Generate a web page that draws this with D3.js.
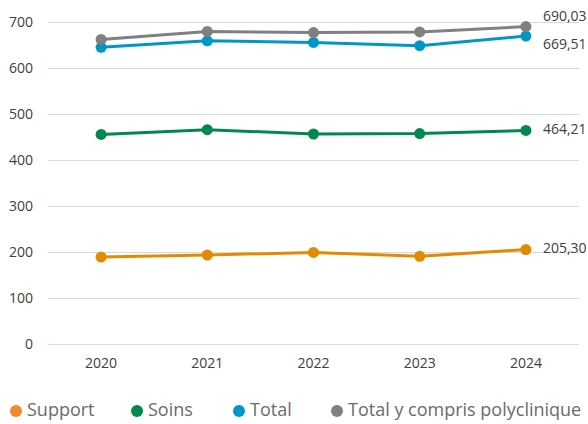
<!DOCTYPE html>
<html>
<head>
<meta charset="utf-8">
<script src="https://cdn.jsdelivr.net/npm/d3@7"></script>
<style>
  body { margin: 0; background: #fff; }
  #chart { width: 588px; height: 424px; }
  .axis text { font-family: "Open Sans", sans-serif; font-size: 14px; fill: #404040; }
  .legend text { font-family: "Open Sans", sans-serif; font-size: 18px; fill: #6b6b6b; }
  .value-label { font-family: "Open Sans", sans-serif; font-size: 14px; fill: #404040; }
</style>
</head>
<body>
<div id="chart"></div>
<script>
//data
const years = ["2020", "2021", "2022", "2023", "2024"];
const seriesNames = ["Support", "Soins", "Total", "Total y compris polyclinique"];
const support = [189, 193.5, 199, 190.5, 205.30];
const soins = [455.5, 466, 456.5, 457.5, 464.21];
const total = [645, 659, 655.5, 648.5, 669.51];
const totalPoly = [662, 679.5, 677, 678.5, 690.03];
const yTicks = [0, 100, 200, 300, 400, 500, 600, 700];
const colors = ["#e38b00", "#00884f", "#0096c8", "#808080"];
const legendColors = ["#f28a2c", "#00884f", "#0096c8", "#808080"];

const series = [support, soins, total, totalPoly].map((values, i) => ({
  name: seriesNames[i],
  values: values,
  color: colors[i]
}));

//size
const width = 588, height = 424;
const margin = { top: 22, right: 9, bottom: 80, left: 48 };
const innerWidth = width - margin.left - margin.right;
const innerHeight = height - margin.top - margin.bottom;

//scale
const xScale = d3.scaleBand().domain(years).range([0, innerWidth]).padding(0);
const yScale = d3.scaleLinear().domain([0, 700]).range([innerHeight, 0]);
const xPos = (i) => xScale(years[i]) + xScale.bandwidth() / 2;

//create element
const svg = d3.select("#chart").append("svg")
  .attr("width", width)
  .attr("height", height);
const g = svg.append("g").attr("transform", `translate(${margin.left},${margin.top})`);

//grid + y-axis
const yAxis = g.append("g").attr("class", "axis y-axis")
  .call(d3.axisLeft(yScale).tickValues(yTicks).tickSize(-innerWidth).tickPadding(15));
yAxis.select(".domain").remove();
yAxis.selectAll(".tick line").attr("stroke", "#d9d9d9").attr("stroke-width", 1);

//x-axis
const xAxis = g.append("g").attr("class", "axis x-axis")
  .attr("transform", `translate(0,${innerHeight})`)
  .call(d3.axisBottom(xScale).tickSize(0).tickPadding(14));
xAxis.select(".domain").remove();

//lines
const line = d3.line()
  .x((d, i) => xPos(i))
  .y((d) => yScale(d));

const sg = g.selectAll("g.series")
  .data(series)
  .join("g")
  .attr("class", "series");

sg.append("path")
  .attr("d", (d) => line(d.values))
  .attr("fill", "none")
  .attr("stroke", (d) => d.color)
  .attr("stroke-width", 3);

sg.selectAll("circle")
  .data((d) => d.values.map((v) => ({ v, color: d.color })))
  .join("circle")
  .attr("cx", (d, i) => xPos(i))
  .attr("cy", (d) => yScale(d.v))
  .attr("r", 5.5)
  .attr("fill", (d) => d.color);

//end labels
const labelDy = [0, 0, 9, -9];
const last = years.length - 1;
sg.append("text")
  .attr("class", "value-label")
  .attr("x", xPos(last) + 17)
  .attr("y", (d, i) => yScale(d.values[last]) + labelDy[i])
  .attr("dominant-baseline", "middle")
  .text((d) => d3.format(".2f")(d.values[last]).replace(".", ","));

//legend
const legendX = [16, 137, 239, 337];
const legend = svg.append("g").attr("class", "legend")
  .attr("transform", `translate(0,411)`);
const items = legend.selectAll("g")
  .data(series)
  .join("g")
  .attr("transform", (d, i) => `translate(${legendX[i]},0)`);
items.append("circle")
  .attr("r", 6)
  .attr("fill", (d, i) => legendColors[i]);
items.append("text")
  .attr("x", 11)
  .attr("dominant-baseline", "middle")
  .text((d) => d.name);
</script>
</body>
</html>
